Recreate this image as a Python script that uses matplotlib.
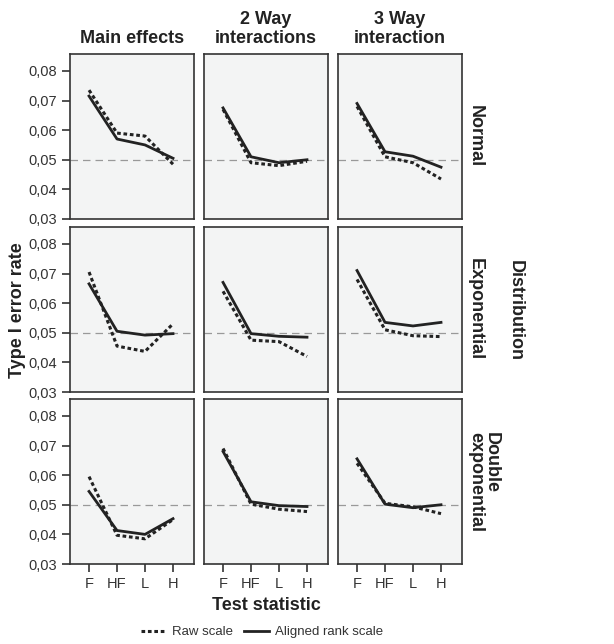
import matplotlib.pyplot as plt
from matplotlib.lines import Line2D

plt.rcParams['font.family'] = ['Liberation Sans', 'DejaVu Sans']

tests = ["F", "HF", "L", "H"]
col_titles = ["Main effects", "2 Way\ninteractions", "3 Way\ninteraction"]
row_titles = ["Normal", "Exponential", "Double\nexponential"]

# raw scale, rows = distribution, cols = effect type
raw_normal = [[0.0735, 0.059, 0.058, 0.0485],
              [0.067, 0.049, 0.048, 0.0495],
              [0.068, 0.051, 0.049, 0.0435]]
raw_expon = [[0.0705, 0.0455, 0.0437, 0.053],
             [0.064, 0.0475, 0.047, 0.042],
             [0.068, 0.051, 0.049, 0.0487]]
raw_dexp = [[0.0595, 0.0397, 0.0385, 0.045],
            [0.069, 0.0502, 0.0485, 0.0477],
            [0.064, 0.0505, 0.0493, 0.047]]

# aligned rank scale
art_normal = [[0.0715, 0.057, 0.055, 0.0505],
              [0.0675, 0.051, 0.049, 0.050],
              [0.069, 0.0527, 0.0512, 0.0475]]
art_expon = [[0.0665, 0.0505, 0.0492, 0.0497],
             [0.067, 0.0497, 0.0488, 0.0485],
             [0.071, 0.0535, 0.0523, 0.0535]]
art_dexp = [[0.0545, 0.0413, 0.040, 0.0453],
            [0.068, 0.051, 0.0497, 0.0494],
            [0.0655, 0.0502, 0.049, 0.050]]

raw = [raw_normal, raw_expon, raw_dexp]
art = [art_normal, art_expon, art_dexp]

W, H = 614, 644
fig = plt.figure(figsize=(W / 100, H / 100), dpi=100)

lefts = [70, 204, 338]
tops = [54, 227, 399]
pw, ph = 124, 165
xs = list(range(len(tests)))
dots = (0, (1.2, 0.9))

for r in range(3):
    for c in range(3):
        ax = fig.add_axes([lefts[c] / W, 1 - (tops[r] + ph) / H, pw / W, ph / H])
        ax.set_facecolor("#f3f4f4")
        ax.axhline(0.05, color="#999999", lw=0.9, ls=(0, (6, 4)), zorder=1)
        ax.plot(xs, raw[r][c], color="#222222", lw=2.2, ls=dots, zorder=3)
        ax.plot(xs, art[r][c], color="#222222", lw=2.0, ls="-", zorder=2)
        ax.set_xlim(-0.68, 3.75)
        ax.set_ylim(0.03, 0.0857)
        for s in ax.spines.values():
            s.set_color("#333333")
            s.set_linewidth(1.2)
        ax.set_yticks([0.03, 0.04, 0.05, 0.06, 0.07, 0.08])
        ax.set_xticks(xs)
        ax.tick_params(direction="out", length=6, width=1.2, color="#333333",
                       labelsize=10.5, labelcolor="#333333")
        if c == 0:
            ax.set_yticklabels([f"{v:.2f}".replace(".", ",") for v in ax.get_yticks()])
        else:
            ax.tick_params(axis="y", left=False, labelleft=False)
        if r == 2:
            ax.set_xticklabels(tests)
        else:
            ax.tick_params(axis="x", bottom=False, labelbottom=False)
        if r == 0:
            ax.set_title(col_titles[c], fontsize=13, fontweight="bold",
                         color="#222222", pad=8, linespacing=1.15)
        if c == 2:
            ax.text(467 / W, 1 - (tops[r] + ph / 2) / H, row_titles[r],
                    transform=fig.transFigure, rotation=-90,
                    ha="left", va="center", fontsize=13, fontweight="bold",
                    color="#222222", linespacing=0.92)

fig.text(18 / W, 1 - 310 / H, "Type I error rate", rotation=90, ha="center",
         va="center", fontsize=13, fontweight="bold", color="#222222")
fig.text(515 / W, 1 - 310 / H, "Distribution", rotation=-90, ha="center",
         va="center", fontsize=13, fontweight="bold", color="#222222")
fig.text(266 / W, 1 - 605 / H, "Test statistic", ha="center", va="center",
         fontsize=13, fontweight="bold", color="#222222")

handles = [Line2D([], [], color="#222222", lw=2.2, ls=dots),
           Line2D([], [], color="#222222", lw=2.0)]
fig.legend(handles, ["Raw scale", "Aligned rank scale"], loc="center",
           bbox_to_anchor=(262 / W, 1 - 632 / H), ncol=2, frameon=False,
           fontsize=9.5, handlelength=1.9, columnspacing=0.9, handletextpad=0.4,
           labelcolor="#333333")

fig.savefig("out.png", dpi=100)
